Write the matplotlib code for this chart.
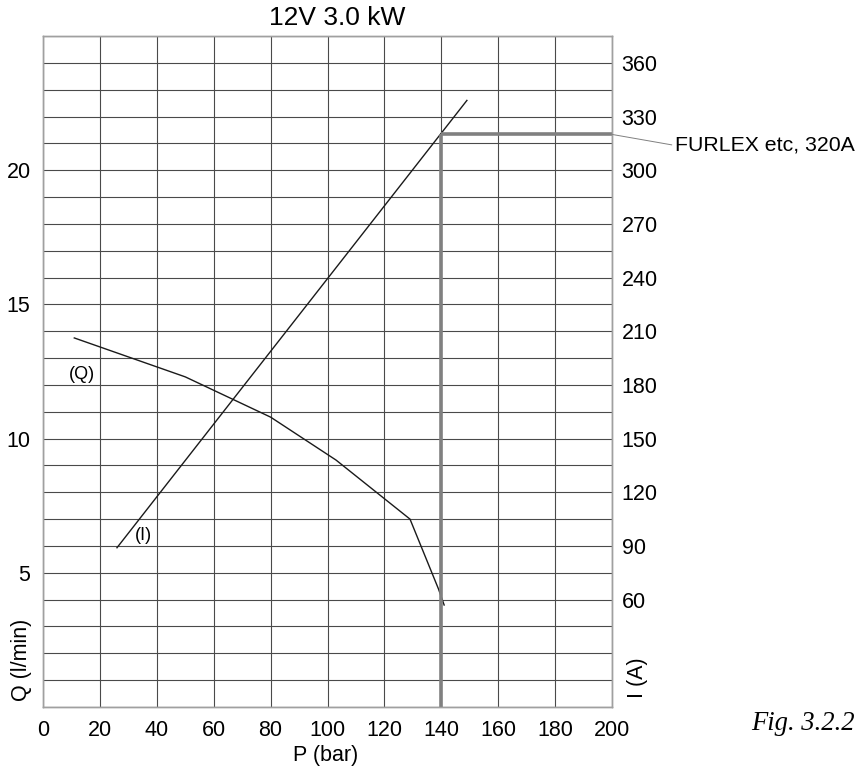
import matplotlib.pyplot as plt

plt.rcParams['font.family'] = ['Liberation Sans', 'DejaVu Sans']

# Datos
p_q = [11, 50, 80, 103, 129, 139, 141]
q_vals = [13.75, 12.3, 10.8, 9.2, 7.0, 4.4, 3.8]

p_i = [26, 149]
i_vals = [89, 339]

p_limit = 140
i_limit = 320

x_ticks = list(range(0, 201, 20))
q_ticks = [5, 10, 15, 20]
i_ticks = list(range(60, 361, 30))

fig = plt.figure(figsize=(8.58, 7.71), dpi=100)
ax = fig.add_axes([43 / 858, 1 - 707 / 771, 569 / 858, 671 / 771])
ax2 = ax.twinx()

ax.set_xlim(0, 200)
ax.set_ylim(0, 25)
ax2.set_ylim(0, 375)

grid_col = '#4a4a4a'
ax.set_xticks(x_ticks)
ax.set_yticks(q_ticks)
ax.set_yticks(range(0, 26), minor=True)
ax.grid(True, which='both', color=grid_col, linewidth=0.8)
ax.tick_params(which='both', length=0, labelsize=15.5, pad=9)
ax.set_axisbelow(True)
ax2.set_yticks(i_ticks)
ax2.tick_params(length=0, labelsize=15.5, pad=7)

for a in (ax, ax2):
    for s in a.spines.values():
        s.set_color('#a0a0a0')
        s.set_linewidth(1.0)

# curvas
ax.plot(p_q, q_vals, color='#1a1a1a', linewidth=1.0)
ax2.plot(p_i, i_vals, color='#1a1a1a', linewidth=1.0)

# limite FURLEX
ax2.plot([p_limit, p_limit], [0, i_limit], color='#808080', linewidth=2.6,
         solid_capstyle='butt')
ax2.plot([p_limit, 200], [i_limit, i_limit], color='#808080', linewidth=2.6,
         solid_capstyle='butt')
ax2.annotate('FURLEX etc, 320A', xy=(200, i_limit), xycoords='data',
             xytext=(1.11, 0.837), textcoords='axes fraction',
             ha='left', va='center', fontsize=15.3,
             arrowprops=dict(arrowstyle='-', color='#808080', lw=0.7,
                             shrinkA=0, shrinkB=0, relpos=(0, 0.5)),
             annotation_clip=False)

ax.text(13.7, 12.4, '(Q)', fontsize=13, ha='center', va='center')
ax2.text(35.2, 96, '(I)', fontsize=13, ha='center', va='center')

# etiquetas
fig.text(337 / 858, 1 - 18 / 771, '12V 3.0 kW', fontsize=19, ha='center', va='center')
fig.text(326 / 858, 1 - 756 / 771, 'P (bar)', fontsize=15.5, ha='center', va='center')
fig.text(22 / 858, 1 - 660 / 771, 'Q (l/min)', fontsize=15.5, ha='center', va='center',
         rotation=90)
fig.text(637 / 858, 1 - 678 / 771, 'I (A)', fontsize=15.5, ha='center', va='center',
         rotation=90)
fig.text(751 / 858, 1 - 723 / 771, 'Fig. 3.2.2', fontsize=19.2, ha='left', va='center',
         family=['Liberation Serif', 'DejaVu Serif'], style='italic')

plt.savefig('out.png', dpi=100)
